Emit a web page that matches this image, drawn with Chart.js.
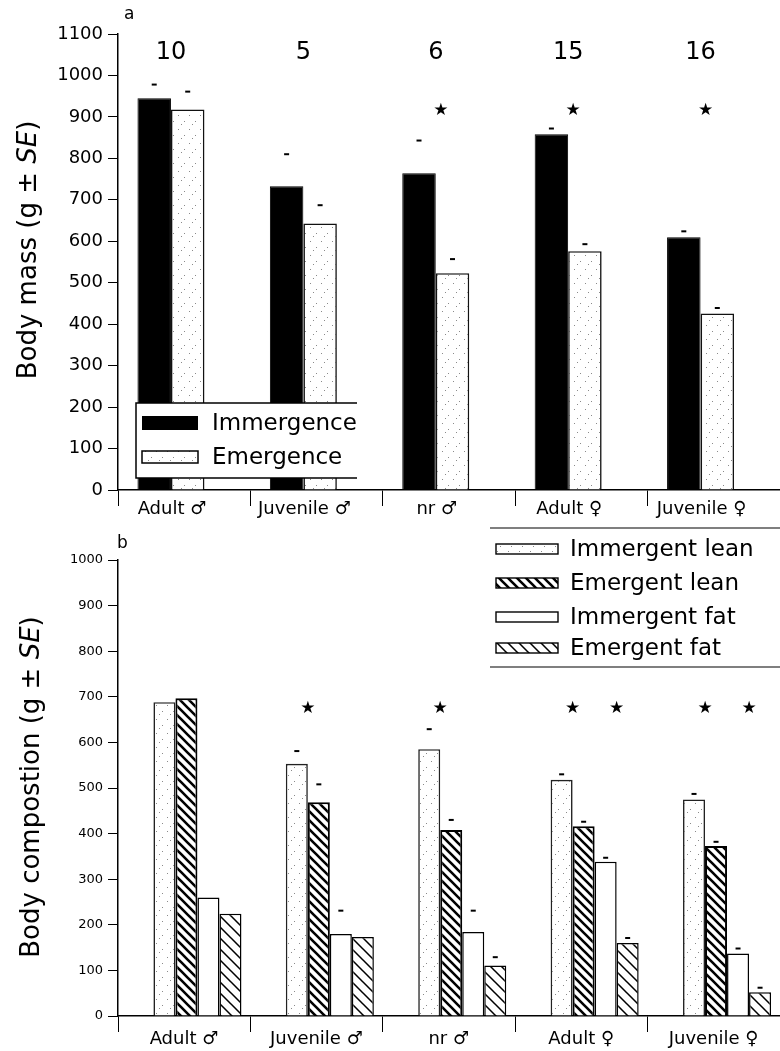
<!DOCTYPE html>
<html>
<head>
<meta charset="utf-8">
<script src="https://cdn.jsdelivr.net/npm/chart.js@4.4.1/dist/chart.umd.min.js"></script>
<style>
  body { margin: 0; background: #fff; width: 780px; height: 1051px; overflow: hidden; }
  .panel { position: absolute; left: 0; width: 780px; }
</style>
</head>
<body>
<div class="panel" style="top:0;height:520px"><canvas id="massChart" width="780" height="520"></canvas></div>
<div class="panel" style="top:520px;height:531px"><canvas id="compChart" width="780" height="531"></canvas></div>
<script>
// groups + sample sizes
const groups = ["Adult ♂", "Juvenile ♂", "nr ♂", "Adult ♀", "Juvenile ♀"];
const sampleN = ["10", "5", "6", "15", "16"];

// a: body mass (g)
const massImm   = [945, 733, 764, 858, 610];
const massEm    = [918, 643, 523, 576, 426];
const seMassImm = [33, 77, 79, 14, 14];
const seMassEm  = [43, 44, 34, 17, 13];
const sigMass   = [false, false, true, true, true];

// b: body composition (g)
const leanImm   = [688, 553, 585, 518, 475];
const leanEm    = [697, 469, 408, 416, 373];
const fatImm    = [260, 180, 184, 338, 137];
const fatEm     = [224, 173, 111, 160, 52];
const seLeanImm = [0, 28, 44, 12, 12];
const seLeanEm  = [0, 39, 22, 10, 9];
const seFatImm  = [0, 51, 47, 9, 11];
const seFatEm   = [0, 0, 18, 11, 10];
const sigLean   = [false, true, true, true, true];
const sigFat    = [false, false, false, true, true];

const FONT = '"DejaVu Sans", "Liberation Sans", sans-serif';

// fill patterns
function stipple() {
    const c = document.createElement("canvas");
    c.width = 11; c.height = 14;
    const g = c.getContext("2d");
    g.fillStyle = "#fff"; g.fillRect(0, 0, 11, 14);
    g.fillStyle = "#8a8a8a";
    g.fillRect(2, 3, 1, 1); g.fillRect(8, 9, 1, 1); g.fillRect(5, 12, 1, 1);
    return g.createPattern(c, "repeat");
}
function hatch(step, lw) {
    const c = document.createElement("canvas");
    c.width = step; c.height = step;
    const g = c.getContext("2d");
    g.fillStyle = "#fff"; g.fillRect(0, 0, step, step);
    g.strokeStyle = "#000"; g.lineWidth = lw;
    g.beginPath();
    for (let k = -1; k <= 1; k++) {
        g.moveTo(-1, -1 + k * step);
        g.lineTo(step + 1, step + 1 + k * step);
    }
    g.stroke();
    return g.createPattern(c, "repeat");
}
const dots = stipple();
const hatchLean = hatch(9, 2.6);
const hatchFat = hatch(11, 1.5);

// bars sit on a linear x axis, one unit per group
function pts(vals, shift) {
    return vals.map((v, i) => ({ x: i + shift, y: v }));
}

function drawYTitle(ctx, parts, x, cy, size) {
    ctx.save();
    ctx.translate(x, cy);
    ctx.rotate(-Math.PI / 2);
    ctx.fillStyle = "#000";
    ctx.textBaseline = "alphabetic";
    ctx.textAlign = "left";
    let total = 0;
    parts.forEach(p => {
        ctx.font = (p.it ? "italic " : "") + size + "px " + FONT;
        p.w = ctx.measureText(p.t).width;
        total += p.w;
    });
    let px = -total / 2;
    parts.forEach(p => {
        ctx.font = (p.it ? "italic " : "") + size + "px " + FONT;
        ctx.fillText(p.t, px, 0);
        px += p.w;
    });
    ctx.restore();
}

function drawSE(chart, idx, se) {
    const ctx = chart.ctx, y = chart.scales.y;
    const meta = chart.getDatasetMeta(idx);
    ctx.save();
    ctx.strokeStyle = "#000";
    ctx.lineWidth = 2;
    meta.data.forEach((bar, i) => {
        if (!se[i]) return;
        const v = chart.data.datasets[idx].data[i].y + se[i];
        const py = y.getPixelForValue(v);
        ctx.beginPath();
        ctx.moveTo(bar.x - 2.5, py);
        ctx.lineTo(bar.x + 2.5, py);
        ctx.stroke();
    });
    ctx.restore();
}

function drawStar(ctx, x, y) {
    ctx.save();
    ctx.fillStyle = "#000";
    ctx.font = "17px " + FONT;
    ctx.textAlign = "center";
    ctx.textBaseline = "middle";
    ctx.fillText("★", x, y);
    ctx.restore();
}

function xAxis(labelOffset, height, pad) {
    return {
        type: "linear", min: 0, max: 5, offset: false,
        afterFit: s => { s.height = height; },
        grid: { offset: false, drawOnChartArea: false, tickLength: 16, color: "#000", lineWidth: 1 },
        border: { color: "#000", width: 1.5 },
        ticks: {
            stepSize: 1, autoSkip: false, maxRotation: 0, minRotation: 0,
            padding: pad, labelOffset: labelOffset, color: "#000",
            font: { family: FONT, size: 18 },
            callback: v => groups[v] ?? ""
        }
    };
}

function yAxis(max, fontSize) {
    return {
        min: 0, max: max,
        afterFit: s => { s.width = 118; },
        grid: { drawOnChartArea: false, tickLength: 10, color: "#000", lineWidth: 1 },
        border: { color: "#000", width: 1.5 },
        ticks: { stepSize: 100, padding: 5, color: "#000", font: { family: FONT, size: fontSize },
                 callback: v => String(v) }
    };
}

// panel a
const SHIFT_A = 0.40;
new Chart(document.getElementById("massChart"), {
    type: "bar",
    data: {
        datasets: [
            { label: "Immergence", data: pts(massImm, SHIFT_A), backgroundColor: "#000", borderColor: "#000",
              borderWidth: 1, categoryPercentage: 0.506, barPercentage: 1 },
            { label: "Emergence", data: pts(massEm, SHIFT_A), backgroundColor: dots, borderColor: "#111",
              borderWidth: 1.6, categoryPercentage: 0.506, barPercentage: 1 }
        ]
    },
    options: {
        responsive: false,
        animation: false,
        layout: { padding: { top: 34, left: 0, right: 0, bottom: 0 } },
        plugins: { legend: { display: false }, tooltip: { enabled: false } },
        scales: { x: xAxis(54, 30, -7), y: yAxis(1100, 18) }
    },
    plugins: [{
        id: "massExtras",
        afterDatasetsDraw(chart) {
            const ctx = chart.ctx, x = chart.scales.x, y = chart.scales.y;
            drawSE(chart, 0, seMassImm);
            drawSE(chart, 1, seMassEm);

            // sample sizes
            ctx.save();
            ctx.fillStyle = "#000";
            ctx.font = "24px " + FONT;
            ctx.textAlign = "center";
            ctx.textBaseline = "middle";
            sampleN.forEach((n, i) => ctx.fillText(n, x.getPixelForValue(i + SHIFT_A), y.getPixelForValue(1055)));
            ctx.restore();

            const imm = chart.getDatasetMeta(0).data;
            sigMass.forEach((s, i) => {
                if (s) drawStar(ctx, imm[i].x + imm[i].width / 2 + 5, y.getPixelForValue(915));
            });

            // legend box
            ctx.save();
            ctx.fillStyle = "#fff";
            ctx.fillRect(136, 403, 221, 75);
            ctx.strokeStyle = "#000";
            ctx.lineWidth = 1.5;
            ctx.beginPath();
            ctx.moveTo(357, 403); ctx.lineTo(136, 403); ctx.lineTo(136, 478); ctx.lineTo(357, 478);
            ctx.stroke();
            ctx.fillStyle = "#000";
            ctx.fillRect(142, 416, 56, 14);
            ctx.fillStyle = dots;
            ctx.fillRect(142, 451, 56, 12);
            ctx.lineWidth = 1.5;
            ctx.strokeRect(142, 451, 56, 12);
            ctx.fillStyle = "#000";
            ctx.font = "23px " + FONT;
            ctx.textBaseline = "middle";
            ctx.fillText("Immergence", 212, 424);
            ctx.fillText("Emergence", 212, 458);
            ctx.font = "17px " + FONT;
            ctx.fillText("a", 124, 15);
            ctx.restore();

            drawYTitle(ctx, [{ t: "Body mass (g ± " }, { t: "SE", it: true }, { t: ")" }], 36, 250, 26);
        }
    }]
});

// panel b
const SHIFT_B = 0.60;
const compSets = [
    { label: "Immergent lean", vals: leanImm, bg: dots, bc: "#222", bw: 1.6 },
    { label: "Emergent lean", vals: leanEm, bg: hatchLean, bc: "#000", bw: 2 },
    { label: "Immergent fat", vals: fatImm, bg: "#fff", bc: "#000", bw: 1.5 },
    { label: "Emergent fat", vals: fatEm, bg: hatchFat, bc: "#000", bw: 1.5 }
];
new Chart(document.getElementById("compChart"), {
    type: "bar",
    data: {
        datasets: compSets.map(d => ({
            label: d.label, data: pts(d.vals, SHIFT_B), backgroundColor: d.bg, borderColor: d.bc,
            borderWidth: d.bw, categoryPercentage: 0.665, barPercentage: 1
        }))
    },
    options: {
        responsive: false,
        animation: false,
        layout: { padding: { top: 40, left: 0, right: 0, bottom: 0 } },
        plugins: { legend: { display: false }, tooltip: { enabled: false } },
        scales: { x: xAxis(66, 35, -3), y: yAxis(1000, 13) }
    },
    plugins: [{
        id: "compExtras",
        afterDatasetsDraw(chart) {
            const ctx = chart.ctx, y = chart.scales.y;
            drawSE(chart, 0, seLeanImm);
            drawSE(chart, 1, seLeanEm);
            drawSE(chart, 2, seFatImm);
            drawSE(chart, 3, seFatEm);

            const lean = chart.getDatasetMeta(0).data;
            const fat = chart.getDatasetMeta(2).data;
            const sy = y.getPixelForValue(675);
            sigLean.forEach((s, i) => { if (s) drawStar(ctx, lean[i].x + lean[i].width / 2, sy); });
            sigFat.forEach((s, i) => { if (s) drawStar(ctx, fat[i].x + fat[i].width / 2, sy); });

            // legend
            ctx.save();
            ctx.strokeStyle = "#000";
            ctx.lineWidth = 1.2;
            ctx.beginPath();
            ctx.moveTo(490, 8); ctx.lineTo(780, 8);
            ctx.moveTo(490, 147); ctx.lineTo(780, 147);
            ctx.stroke();
            const rows = [29, 63, 97, 128];
            compSets.forEach((d, i) => {
                ctx.fillStyle = d.bg;
                ctx.fillRect(496, rows[i] - 5, 62, 10);
                ctx.lineWidth = 1.4;
                ctx.strokeStyle = "#000";
                ctx.strokeRect(496, rows[i] - 5, 62, 10);
                ctx.fillStyle = "#000";
                ctx.font = "23px " + FONT;
                ctx.textBaseline = "middle";
                ctx.fillText(d.label, 570, rows[i] + 1);
            });
            ctx.font = "17px " + FONT;
            ctx.fillText("b", 117, 24);
            ctx.restore();

            drawYTitle(ctx, [{ t: "Body compostion (g ± " }, { t: "SE", it: true }, { t: ")" }], 39, 267, 26);
        }
    }]
});
</script>
</body>
</html>
